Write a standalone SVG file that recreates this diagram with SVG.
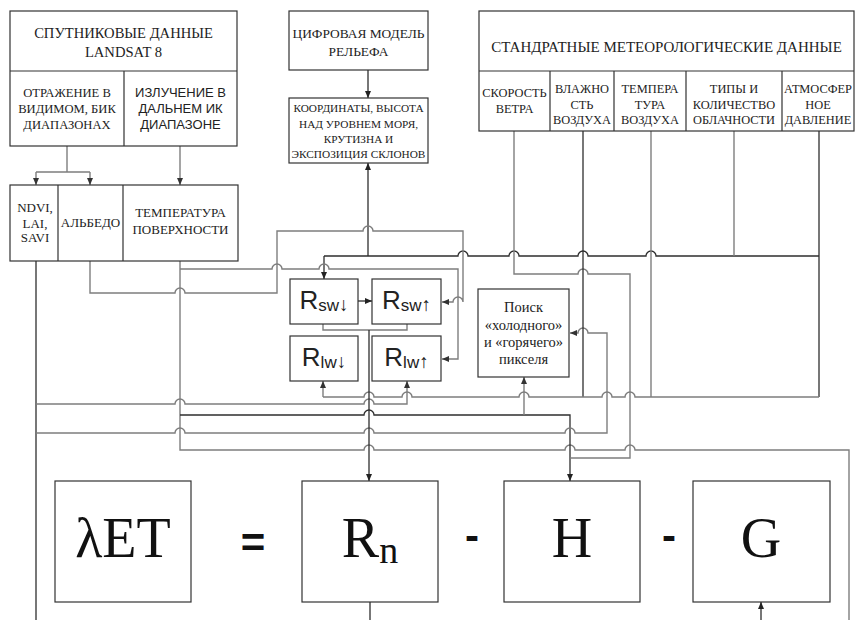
<svg xmlns="http://www.w3.org/2000/svg" width="858" height="620" viewBox="0 0 858 620">
<defs>
<marker id="ad" markerUnits="userSpaceOnUse" markerWidth="8" markerHeight="6" refX="7" refY="3" orient="auto"><path d="M0,0 L7,3 L0,6 z" fill="#222"/></marker>
<marker id="ag" markerUnits="userSpaceOnUse" markerWidth="8" markerHeight="6" refX="7" refY="3" orient="auto"><path d="M0,0 L7,3 L0,6 z" fill="#333"/></marker>
<style>
.box{fill:#fff;stroke:#333;stroke-width:1.2}
.div{fill:none;stroke:#333;stroke-width:1.2}
.d{fill:none;stroke:#2e2e2e;stroke-width:1.3}
.g{fill:none;stroke:#7e7e7e;stroke-width:1.4}
.ser{font-family:"Liberation Serif","Times New Roman",serif;fill:#222;text-anchor:middle}
.san{font-family:"Liberation Sans",Arial,sans-serif;fill:#222;text-anchor:middle}
.big{font-family:"Liberation Serif","Times New Roman",serif;fill:#111;font-size:56px;text-anchor:middle}
.op{font-family:"Liberation Sans",Arial,sans-serif;fill:#111;font-weight:bold;font-size:42px;text-anchor:middle}
</style>
</defs>

<g id="connectors">
<path class="g" d="M67,146 V172 M36,172 H90"/>
<path class="g" d="M36,172 V185" marker-end="url(#ag)"/>
<path class="g" d="M90,172 V185" marker-end="url(#ag)"/>
<path class="g" d="M180,146 V185" marker-end="url(#ag)"/>
<path class="d" d="M368,70 V98" marker-end="url(#ad)"/>
<path class="d" d="M368,256 V163" marker-end="url(#ad)"/>
<path class="d" d="M324,256 H458 a5,5 0 0 1 10,0 H509 a5,5 0 0 1 10,0 H578 a5,5 0 0 1 10,0 H646 a5,5 0 0 1 10,0 H819"/>
<path class="d" d="M324,256 V279" marker-end="url(#ad)"/>
<path class="g" d="M734,131 V256"/>
<path class="d" d="M819,131 V397"/>
<path class="g" d="M90,261 V293 H175 a5,5 0 0 1 10,0 H277 V231 H363 a5,5 0 0 1 10,0 H463 V302 a5,5 0 0 0 -10,0 H442" marker-end="url(#ag)"/>
<path class="g" d="M180,261 V450 H364 a5,5 0 0 1 10,0 H565 a5,5 0 0 1 10,0 H625 a5,5 0 0 1 10,0 H849 V620"/>
<path class="g" d="M180,269 H272 a5,5 0 0 1 10,0 H319 a5,5 0 0 1 10,0 H458 V359 H442" marker-end="url(#ag)"/>
<path class="d" d="M180,415 H364 a5,5 0 0 1 10,0 H570 V481" marker-end="url(#ad)"/>
<path class="g" d="M524,415 V377" marker-end="url(#ag)"/>
<path class="d" d="M36,261 V620"/>
<path class="g" d="M36,404 H175 a5,5 0 0 1 10,0 H364 a5,5 0 0 1 10,0 H407 V381" marker-end="url(#ag)"/>
<path class="g" d="M36,433 H175 a5,5 0 0 1 10,0 H364 a5,5 0 0 1 10,0 H565 a5,5 0 0 1 10,0 H607 V333 H588 a5,5 0 0 0 -10,0 H570" marker-end="url(#ag)"/>
<path class="g" d="M514,131 V274 H578 a5,5 0 0 1 10,0 H630 V458 H570"/>
<path class="d" d="M583,131 V397"/>
<path class="g" d="M651,131 V397"/>
<path class="g" d="M323,397 H364 a5,5 0 0 1 10,0 H402 a5,5 0 0 1 10,0 H519 a5,5 0 0 1 10,0 H602 a5,5 0 0 1 10,0 H625 a5,5 0 0 1 10,0 H819"/>
<path class="g" d="M323,397 V381" marker-end="url(#ag)"/>
<path class="g" d="M323,324 V330 H407 V324"/>
<path class="d" d="M369,330 V481" marker-end="url(#ad)"/>
<path class="d" d="M358,301 H372" marker-end="url(#ad)"/>
<path class="d" d="M370,602 V620"/>
<path class="d" d="M761,620 V602" marker-end="url(#ad)"/>
</g>

<g id="landsat">
<rect class="box" x="10" y="11" width="227" height="135"/>
<path class="div" d="M10,71 H237 M124,71 V146"/>
<text class="ser" x="123.5" y="37.5" font-size="14.6">СПУТНИКОВЫЕ ДАННЫЕ</text>
<text class="ser" x="123.5" y="57" font-size="14.6">LANDSAT 8</text>
<text class="ser" x="67" y="97" font-size="12.6">ОТРАЖЕНИЕ В</text>
<text class="ser" x="67" y="113" font-size="12.6">ВИДИМОМ, БИК</text>
<text class="ser" x="67" y="129" font-size="12.6">ДИАПАЗОНАХ</text>
<text class="san" x="180.5" y="97" font-size="13">ИЗЛУЧЕНИЕ В</text>
<text class="san" x="180.5" y="113" font-size="13">ДАЛЬНЕМ ИК</text>
<text class="san" x="180.5" y="129" font-size="13">ДИАПАЗОНЕ</text>
</g>

<g id="indices">
<rect class="box" x="10" y="185" width="228" height="76"/>
<path class="div" d="M58,185 V261 M123,185 V261"/>
<text class="ser" x="35" y="212" font-size="13">NDVI,</text>
<text class="ser" x="35" y="227.5" font-size="13">LAI,</text>
<text class="ser" x="35" y="242" font-size="13">SAVI</text>
<text class="ser" x="90.5" y="227" font-size="13">АЛЬБЕДО</text>
<text class="ser" x="180.5" y="217" font-size="13">ТЕМПЕРАТУРА</text>
<text class="ser" x="180.5" y="234" font-size="13">ПОВЕРХНОСТИ</text>
</g>

<g id="dem">
<rect class="box" x="289" y="11" width="139" height="59"/>
<text class="ser" x="358.5" y="38" font-size="13.4">ЦИФРОВАЯ МОДЕЛЬ</text>
<text class="ser" x="358.5" y="56" font-size="13.4">РЕЛЬЕФА</text>
</g>

<g id="coords">
<rect class="box" x="289" y="98" width="139" height="65"/>
<text class="ser" x="358.5" y="112" font-size="11.3">КООРДИНАТЫ, ВЫСОТА</text>
<text class="ser" x="358.5" y="128" font-size="11.3">НАД УРОВНЕМ МОРЯ,</text>
<text class="ser" x="358.5" y="143" font-size="11.3">КРУТИЗНА И</text>
<text class="ser" x="358.5" y="158" font-size="11.3">ЭКСПОЗИЦИЯ СКЛОНОВ</text>
</g>

<g id="meteo">
<rect class="box" x="479" y="11" width="375" height="120"/>
<path class="div" d="M479,71 H854 M550,71 V131 M614,71 V131 M686,71 V131 M782,71 V131"/>
<text class="ser" x="666.5" y="52" font-size="15">СТАНДРАТНЫЕ МЕТЕОРОЛОГИЧЕСКИЕ ДАННЫЕ</text>
<text class="ser" x="514.5" y="97" font-size="12.4">СКОРОСТЬ</text>
<text class="ser" x="514.5" y="113" font-size="12.4">ВЕТРА</text>
<text class="ser" x="582" y="93" font-size="12.4">ВЛАЖНО</text>
<text class="ser" x="582" y="108.5" font-size="12.4">СТЬ</text>
<text class="ser" x="582" y="124" font-size="12.4">ВОЗДУХА</text>
<text class="ser" x="650" y="93" font-size="12.4">ТЕМПЕРА</text>
<text class="ser" x="650" y="108.5" font-size="12.4">ТУРА</text>
<text class="ser" x="650" y="124" font-size="12.4">ВОЗДУХА</text>
<text class="ser" x="734" y="93" font-size="12.4">ТИПЫ И</text>
<text class="ser" x="734" y="108.5" font-size="12.4">КОЛИЧЕСТВО</text>
<text class="ser" x="734" y="124" font-size="12.4">ОБЛАЧНОСТИ</text>
<text class="ser" x="818" y="93" font-size="12.4">АТМОСФЕР</text>
<text class="ser" x="818" y="108.5" font-size="12.4">НОЕ</text>
<text class="ser" x="818" y="124" font-size="12.4">ДАВЛЕНИЕ</text>
</g>

<g id="rsw-down">
<rect class="box" x="290" y="279" width="68" height="45"/>
<text class="san" x="324" y="309" font-size="26">R<tspan font-size="17" dy="2">sw</tspan><tspan font-size="19">↓</tspan></text>
</g>
<g id="rsw-up">
<rect class="box" x="372" y="279" width="69" height="45"/>
<text class="san" x="406.5" y="309" font-size="26">R<tspan font-size="17" dy="2">sw</tspan><tspan font-size="19">↑</tspan></text>
</g>
<g id="rlw-down">
<rect class="box" x="290" y="336" width="68" height="45"/>
<text class="san" x="324" y="366" font-size="26">R<tspan font-size="17" dy="2">lw</tspan><tspan font-size="19">↓</tspan></text>
</g>
<g id="rlw-up">
<rect class="box" x="372" y="336" width="69" height="45"/>
<text class="san" x="406.5" y="366" font-size="26">R<tspan font-size="17" dy="2">lw</tspan><tspan font-size="19">↑</tspan></text>
</g>

<g id="pixel-search">
<rect class="box" x="478" y="289" width="91" height="88"/>
<text class="ser" x="523.5" y="312" font-size="14.5">Поиск</text>
<text class="ser" x="523.5" y="329.5" font-size="14.5">«холодного»</text>
<text class="ser" x="523.5" y="346.5" font-size="14.5">и «горячего»</text>
<text class="ser" x="523.5" y="363.5" font-size="14.5">пикселя</text>
</g>

<g id="let">
<rect class="box" x="55" y="481" width="136" height="121"/>
<text class="big" x="123" y="557">λET</text>
</g>
<g id="eq"><text class="op" x="253" y="557">=</text></g>
<g id="rn">
<rect class="box" x="302" y="481" width="136" height="121"/>
<text class="big" x="370" y="557">R<tspan font-size="38" dy="6">n</tspan></text>
</g>
<g id="minus1"><text class="op" x="472" y="550">-</text></g>
<g id="h">
<rect class="box" x="504" y="481" width="136" height="121"/>
<text class="big" x="572" y="557">H</text>
</g>
<g id="minus2"><text class="op" x="669" y="550">-</text></g>
<g id="gflux">
<rect class="box" x="693" y="481" width="137" height="121"/>
<text class="big" x="761" y="557">G</text>
</g>
</svg>
